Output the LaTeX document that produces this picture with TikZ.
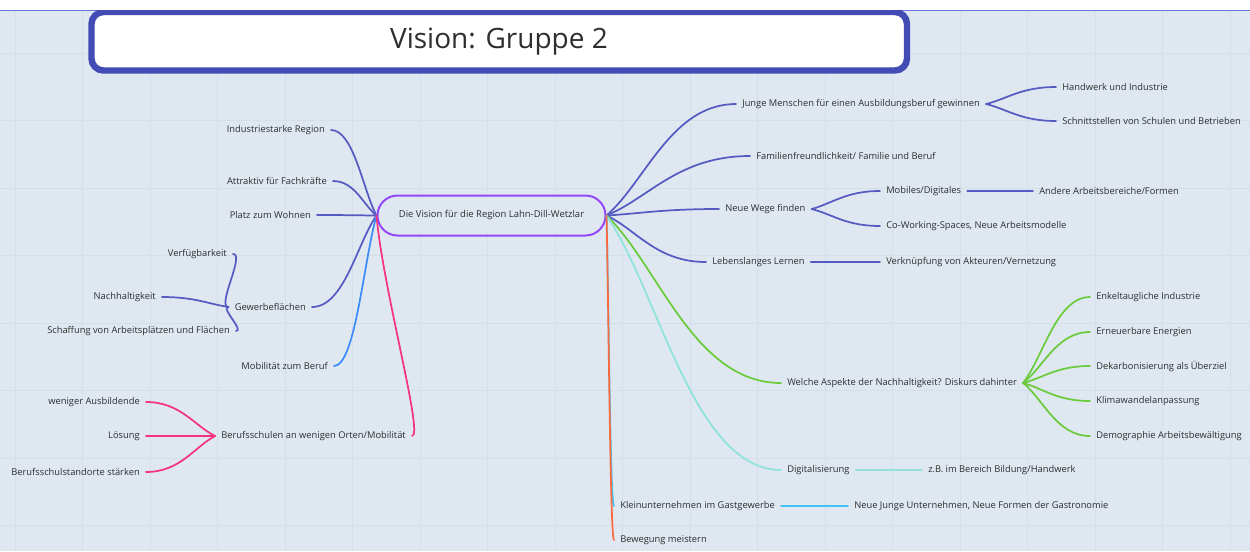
\documentclass[tikz,border=0pt]{standalone}
\usepackage{fontspec}
\setmainfont{Open Sans}
\usepackage{xcolor}
\definecolor{boardBg}{HTML}{DFE8F1}
\definecolor{gridLine}{HTML}{D5DFEA}
\definecolor{titleBlue}{HTML}{434BB5}
\definecolor{topLine}{HTML}{6C75D8}
\definecolor{rootViolet}{HTML}{9447F6}
\definecolor{mapIndigo}{HTML}{555BC2}
\definecolor{mapBlue}{HTML}{3E8CFA}
\definecolor{mapPink}{HTML}{F5347D}
\definecolor{mapGreen}{HTML}{6BCB3C}
\definecolor{mapTeal}{HTML}{8FE3DA}
\definecolor{mapSky}{HTML}{40C2F2}
\definecolor{mapOrange}{HTML}{FA6A3F}
\definecolor{mapText}{HTML}{2E2E2E}
\usetikzlibrary{calc}

\begin{document}
\begin{tikzpicture}[
		x=0.75pt, y=-0.75pt,
		leaf/.style={
			font=\fontsize{7}{8.5}\selectfont,
			text=mapText,
			inner xsep=4.5pt,
			inner ysep=1pt
		},
		rootbox/.style={
			draw=rootViolet,
			fill=boardBg,
			line width=1.5pt,
			rounded corners=15pt,
			minimum width=171pt,
			minimum height=30pt,
			font=\fontsize{7.1}{8.5}\selectfont,
			text=mapText
		},
		wire/.style={draw=#1, line width=1.3pt, line cap=round},
		sprout/.style={to path={.. controls ($(\tikztostart)!0.3!(\tikztotarget)$) and ($(\tikztotarget)!0.5!(\tikztostart |- \tikztotarget)$) .. (\tikztotarget)}}
		]
		
		% board
		\useasboundingbox (0,0) rectangle (1250,551);
		\fill[white] (0,0) rectangle (1250,551);
		\fill[boardBg] (0,10) rectangle (1250,551);
		\foreach \i in {0,...,18}
			\draw[gridLine, line width=0.5pt] (15+67.5*\i,10) -- (15+67.5*\i,551);
		\foreach \i in {0,...,7}
			\draw[gridLine, line width=0.5pt] (0,53+67.5*\i) -- (1250,53+67.5*\i);
		\draw[topLine, line width=0.6pt] (0,10) -- (1250,10);
		
		% title
		\begin{scope}
			\clip (0,10) rectangle (1250,551);
			\draw[titleBlue, fill=white, line width=4.8pt, rounded corners=9pt] (91.5,12) rectangle (907,70.5);
		\end{scope}
		\node[font=\fontsize{21}{25}\selectfont, text=mapText] (title) at (499,42) {Vision: Gruppe 2};
		
		% center
		\node[rootbox] (root) at (491.5,215.5) {Die Vision für die Region Lahn-Dill-Wetzlar};
		
		% left side
		\node[leaf, anchor=east] (indus) at (331,130) {Industriestarke Region};
		\node[leaf, anchor=east] (attrak) at (333,181) {Attraktiv für Fachkräfte};
		\node[leaf, anchor=east] (platz) at (317,215) {Platz zum Wohnen};
		\node[leaf, anchor=east] (gewerbe) at (312,307) {Gewerbeflächen};
		\node[leaf, anchor=east] (verfueg) at (233,254) {Verfügbarkeit};
		\node[leaf, anchor=east] (nachhalt) at (162,297) {Nachhaltigkeit};
		\node[leaf, anchor=east] (schaff) at (236,331) {Schaffung von Arbeitsplätzen und Flächen};
		\node[leaf, anchor=east] (mobil) at (334,366) {Mobilität zum Beruf};
		\node[leaf, anchor=east] (berufs) at (412,436) {Berufsschulen an wenigen Orten/Mobilität};
		\node[leaf, anchor=east] (weniger) at (146,402) {weniger Ausbildende};
		\node[leaf, anchor=east] (loesung) at (146,436) {Lösung};
		\node[leaf, anchor=east] (staerken) at (146,472) {Berufsschulstandorte stärken};
		
		% right side
		\node[leaf, anchor=west] (junge) at (736,104) {Junge Menschen für einen Ausbildungsberuf gewinnen};
		\node[leaf, anchor=west] (handwerk) at (1056,87) {Handwerk und Industrie};
		\node[leaf, anchor=west] (schnitt) at (1056,121) {Schnittstellen von Schulen und Betrieben};
		\node[leaf, anchor=west] (familie) at (750,156) {Familienfreundlichkeit/ Familie und Beruf};
		\node[leaf, anchor=west] (wege) at (719,209) {Neue Wege finden};
		\node[leaf, anchor=west] (mobdig) at (880,191) {Mobiles/Digitales};
		\node[leaf, anchor=west] (andere) at (1033,191) {Andere Arbeitsbereiche/Formen};
		\node[leaf, anchor=west] (cowork) at (880,226) {Co-Working-Spaces, Neue Arbeitsmodelle};
		\node[leaf, anchor=west] (lernen) at (706,262) {Lebenslanges Lernen};
		\node[leaf, anchor=west] (verknuepf) at (880,262) {Verknüpfung von Akteuren/Vernetzung};
		\node[leaf, anchor=west] (aspekte) at (781,383) {Welche Aspekte der Nachhaltigkeit? Diskurs dahinter};
		\node[leaf, anchor=west] (enkel) at (1090,297) {Enkeltaugliche Industrie};
		\node[leaf, anchor=west] (erneuer) at (1090,332) {Erneuerbare Energien};
		\node[leaf, anchor=west] (dekarb) at (1090,366) {Dekarbonisierung als Überziel};
		\node[leaf, anchor=west] (klima) at (1090,401) {Klimawandelanpassung};
		\node[leaf, anchor=west] (demogr) at (1090,436) {Demographie Arbeitsbewältigung};
		\node[leaf, anchor=west] (digital) at (781,470) {Digitalisierung};
		\node[leaf, anchor=west] (zumbsp) at (922,470) {z.B. im Bereich Bildung/Handwerk};
		\node[leaf, anchor=west] (klein) at (614,506) {Kleinunternehmen im Gastgewerbe};
		\node[leaf, anchor=west] (gastro) at (848,506) {Neue Junge Unternehmen, Neue Formen der Gastronomie};
		\node[leaf, anchor=west] (beweg) at (614,540) {Bewegung meistern};
		
		% left branches
		\draw[wire=mapIndigo] (root.west) to[sprout] (indus.east);
		\draw[wire=mapIndigo] (root.west) to[sprout] (attrak.east);
		\draw[wire=mapIndigo] (root.west) to[sprout] (platz.east);
		\draw[wire=mapIndigo] (root.west) to[sprout] (gewerbe.east);
		\draw[wire=mapIndigo] (gewerbe.west) to[out=180, in=0, looseness=0.6] (verfueg.east);
		\draw[wire=mapIndigo] (gewerbe.west) to[sprout] (nachhalt.east);
		\draw[wire=mapIndigo] (gewerbe.west) to[out=180, in=0, looseness=0.9] (schaff.east);
		\draw[wire=mapBlue] (root.west) to[sprout] (mobil.east);
		\draw[wire=mapPink] (root.west) .. controls (383,290) and (424,436) .. (berufs.east);
		\draw[wire=mapPink] (berufs.west) to[sprout] (weniger.east);
		\draw[wire=mapPink] (berufs.west) -- (loesung.east);
		\draw[wire=mapPink] (berufs.west) to[sprout] (staerken.east);
		
		% right branches
		\draw[wire=mapIndigo] (root.east) to[sprout] (junge.west);
		\draw[wire=mapIndigo] (junge.east) to[sprout] (handwerk.west);
		\draw[wire=mapIndigo] (junge.east) to[sprout] (schnitt.west);
		\draw[wire=mapIndigo] (root.east) to[sprout] (familie.west);
		\draw[wire=mapIndigo] (root.east) to[sprout] (wege.west);
		\draw[wire=mapIndigo] (wege.east) to[sprout] (mobdig.west);
		\draw[wire=mapIndigo] (wege.east) to[sprout] (cowork.west);
		\draw[wire=mapIndigo] (mobdig.east) -- (andere.west);
		\draw[wire=mapIndigo] (root.east) to[sprout] (lernen.west);
		\draw[wire=mapIndigo] (lernen.east) -- (verknuepf.west);
		\draw[wire=mapGreen] (root.east) to[sprout] (aspekte.west);
		\foreach \n in {enkel, erneuer, dekarb, klima, demogr}
			\draw[wire=mapGreen] (aspekte.east) to[sprout] (\n.west);
		\draw[wire=mapTeal] (root.east) to[sprout] (digital.west);
		\draw[wire=mapTeal] (digital.east) -- (zumbsp.west);
		\draw[wire=mapSky] (root.east) to[sprout] (klein.west);
		\draw[wire=mapSky] (klein.east) -- (gastro.west);
		\draw[wire=mapOrange] (root.east) to[sprout] (beweg.west);
		
	\end{tikzpicture}
\end{document}
